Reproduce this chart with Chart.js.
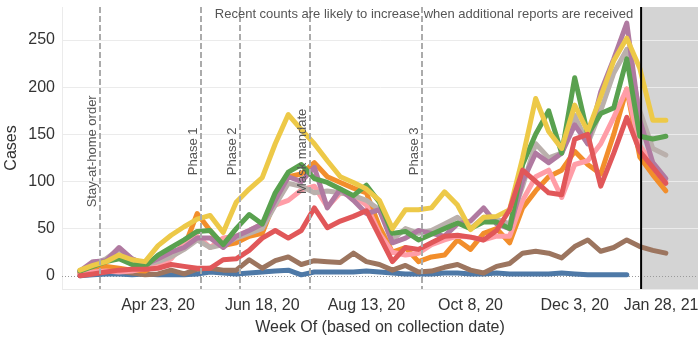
<!DOCTYPE html>
<html>
<head>
<meta charset="utf-8">
<script src="https://cdn.jsdelivr.net/npm/chart.js@4"></script>
<style>
  body { margin: 0; background: #fff; }
  canvas { display: block; }
</style>
</head>
<body>
<canvas id="casesChart" width="698" height="343"></canvas>
<script>
// Weekly case counts, week 0 = Mar 12, 2020
const yellow = [6, 11, 15, 22, 17, 15, 32, 43, 52, 60, 64, 46, 78, 92, 104, 140, 171, 155, 140, 122, 105, 99, 92, 80, 50, 70, 70, 72, 89, 75, 49, 62, 63, 70, 125, 188, 153, 135, 181, 153, 190, 228, 252, 220, 165, 165];
const green = [5, 10, 15, 18, 12, 10, 22, 30, 38, 47, 48, 33, 50, 65, 55, 88, 110, 118, 103, 99, 92, 85, 96, 78, 45, 47, 38, 44, 50, 56, 50, 57, 57, 50, 118, 150, 175, 130, 210, 150, 172, 178, 230, 148, 145, 148];
const gray = [5, 12, 18, 28, 18, 12, 15, 20, 28, 38, 30, 33, 40, 45, 50, 75, 98, 95, 88, 90, 88, 85, 80, 70, 38, 50, 45, 48, 55, 62, 50, 62, 60, 55, 95, 140, 125, 130, 170, 140, 175, 215, 240, 175, 135, 128];
const purple = [5, 15, 16, 30, 18, 12, 18, 25, 30, 40, 40, 30, 42, 48, 55, 80, 105, 100, 115, 72, 92, 80, 66, 70, 35, 40, 48, 45, 42, 55, 58, 72, 55, 50, 100, 130, 120, 130, 160, 140, 195, 230, 268, 165, 120, 103];
const pink = [2, 4, 5, 4, 5, 8, 10, 18, 35, 42, 30, 40, 42, 48, 55, 75, 80, 91, 95, 73, 88, 85, 75, 45, 25, 22, 24, 33, 38, 42, 41, 38, 42, 42, 80, 105, 112, 83, 118, 122, 140, 168, 198, 138, 118, 100];
const orange = [3, 8, 10, 8, 6, 5, 12, 20, 30, 66, 48, 32, 35, 42, 45, 80, 105, 108, 120, 105, 99, 93, 88, 52, 25, 30, 15, 20, 22, 38, 28, 45, 50, 35, 72, 90, 105, 112, 132, 118, 108, 150, 198, 126, 107, 90];
const red = [0, 2, 4, 6, 7, 7, 8, 12, 10, 8, 8, 17, 18, 27, 40, 48, 40, 48, 72, 51, 58, 63, 69, 42, 15, 30, 28, 35, 42, 43, 41, 38, 48, 70, 112, 100, 88, 86, 145, 150, 95, 130, 168, 132, 115, 98];
const brown = [3, 5, 6, 5, 3, 1, 2, 6, 2, 7, 8, 6, 6, 17, 8, 16, 20, 12, 16, 15, 14, 24, 15, 12, 6, 11, 4, 5, 9, 12, 6, 3, 10, 13, 24, 26, 24, 19, 31, 38, 26, 30, 38, 31, 27, 24];
const blue = [0, 1, 2, 2, 1, 2, 1, 1, 1, 2, 4, 3, 2, 3, 4, 5, 6, 1, 4, 4, 4, 4, 5, 4, 3, 2, 2, 2, 3, 3, 2, 2, 3, 2, 2, 2, 2, 3, 2, 1, 1, 1, 1];

// x axis ticks (week index) and labels
const tickWeeks = [6, 14, 22, 30, 38, 46];
const tickLabels = ['Apr 23, 20', 'Jun 18, 20', 'Aug 13, 20', 'Oct 8, 20', 'Dec 3, 20', 'Jan 28, 21'];
const yTicks = [0, 50, 100, 150, 200, 250];

// policy events (fractional week index)
const eventWeeks = [1.55, 9.3, 12.3, 17.7, 26.3];
const eventLabels = ['Stay-at-home order', 'Phase 1', 'Phase 2', 'Mask mandate', 'Phase 3'];
const cutoffWeek = 43.1;
const noteText = 'Recent counts are likely to increase when additional reports are received';

Chart.defaults.font.family = '"Liberation Sans", Arial, sans-serif';

const toPoints = arr => arr.map((v, i) => ({ x: i, y: v }));

function line(values, color) {
    return {
        data: toPoints(values),
        borderColor: color,
        backgroundColor: color,
        borderWidth: 5,
        pointRadius: 0,
        tension: 0,
        borderJoinStyle: 'round',
        borderCapStyle: 'round',
        fill: false
    };
}

// dataset 0 is drawn on top
const datasets = [
    line(red, '#e15759'),
    line(yellow, '#edc948'),
    line(green, '#59a14f'),
    line(purple, '#b07aa1'),
    line(gray, '#bab0ac'),
    line(pink, '#ff9da7'),
    line(orange, '#f28e2b'),
    line(brown, '#9c755f'),
    line(blue, '#4e79a7')
];

const overlay = {
    id: 'overlay',
    beforeDraw(chart) {
        const { ctx, chartArea: a, scales: { x } } = chart;
        const cx = x.getPixelForValue(cutoffWeek);
        ctx.save();
        ctx.fillStyle = '#d4d4d4';
        ctx.fillRect(cx, a.top, a.right - cx, a.bottom - a.top);
        ctx.restore();
    },
    beforeDatasetsDraw(chart) {
        const { ctx, chartArea: a, scales: { y } } = chart;
        const y0 = Math.round(y.getPixelForValue(0)) + 0.5;
        ctx.save();
        ctx.strokeStyle = '#9a9a9a';
        ctx.lineWidth = 1;
        ctx.setLineDash([1, 2]);
        ctx.beginPath();
        ctx.moveTo(a.left, y0);
        ctx.lineTo(a.right, y0);
        ctx.stroke();
        ctx.restore();
    },
    afterDatasetsDraw(chart) {
        const { ctx, chartArea: a, scales: { x, y } } = chart;
        ctx.save();
        // event lines
        ctx.strokeStyle = '#ababab';
        ctx.lineWidth = 2;
        ctx.setLineDash([6, 3]);
        eventWeeks.forEach(w => {
            const px = Math.round(x.getPixelForValue(w));
            ctx.beginPath();
            ctx.moveTo(px, a.top);
            ctx.lineTo(px, a.bottom);
            ctx.stroke();
        });
        ctx.setLineDash([]);
        // event labels
        ctx.fillStyle = '#555';
        ctx.font = '13px "Liberation Sans", Arial, sans-serif';
        ctx.textAlign = 'center';
        ctx.textBaseline = 'alphabetic';
        const yc = y.getPixelForValue(132);
        eventWeeks.forEach((w, i) => {
            const px = Math.round(x.getPixelForValue(w));
            ctx.save();
            ctx.translate(px - 4, yc);
            ctx.rotate(-Math.PI / 2);
            ctx.fillText(eventLabels[i], 0, 0);
            ctx.restore();
        });
        // cutoff line
        const cx = x.getPixelForValue(cutoffWeek);
        ctx.strokeStyle = '#000';
        ctx.lineWidth = 2;
        ctx.beginPath();
        ctx.moveTo(cx, a.top);
        ctx.lineTo(cx, a.bottom);
        ctx.stroke();
        // note
        ctx.fillStyle = '#555';
        ctx.textBaseline = 'middle';
        ctx.fillText(noteText, 424, 14);
        ctx.restore();
    }
};

new Chart(document.getElementById('casesChart'), {
    type: 'line',
    data: { datasets },
    options: {
        responsive: false,
        animation: false,
        layout: { padding: { top: 7, right: 0, left: 0, bottom: 0 } },
        plugins: { legend: { display: false }, tooltip: { enabled: false } },
        scales: {
            x: {
                type: 'linear',
                min: -1.38,
                max: 47.47,
                afterBuildTicks: s => { s.ticks = tickWeeks.map(v => ({ value: v })); },
                afterFit: s => { s.paddingLeft = 0; s.paddingRight = 0; },
                grid: { display: false, drawTicks: false },
                border: { color: '#ebebeb' },
                ticks: {
                    autoSkip: false,
                    maxRotation: 0,
                    padding: 7.4,
                    color: '#333',
                    font: { size: 16 },
                    callback: (v, i) => i === tickLabels.length - 1 ? tickLabels[i] + '\u00a0'.repeat(8) : tickLabels[i]
                },
                title: {
                    display: true,
                    text: 'Week Of (based on collection date)',
                    color: '#333',
                    font: { size: 16, lineHeight: 0.625 },
                    padding: { top: 0, bottom: 10 }
                }
            },
            y: {
                min: -14,
                max: 285,
                afterBuildTicks: s => { s.ticks = yTicks.map(v => ({ value: v })); },
                afterFit: s => { s.width = 62; s.paddingTop = 0; s.paddingBottom = 0; },
                grid: {
                    drawTicks: false,
                    color: c => (c.tick && c.tick.value === 0) ? 'rgba(0,0,0,0)' : '#ebebeb'
                },
                border: { color: '#ebebeb' },
                ticks: { padding: 7, color: '#333', font: { size: 16 } },
                title: {
                    display: true,
                    text: 'Cases',
                    color: '#333',
                    font: { size: 16 },
                    padding: { top: 2, bottom: 0 }
                }
            }
        }
    },
    plugins: [overlay]
});
</script>
</body>
</html>
